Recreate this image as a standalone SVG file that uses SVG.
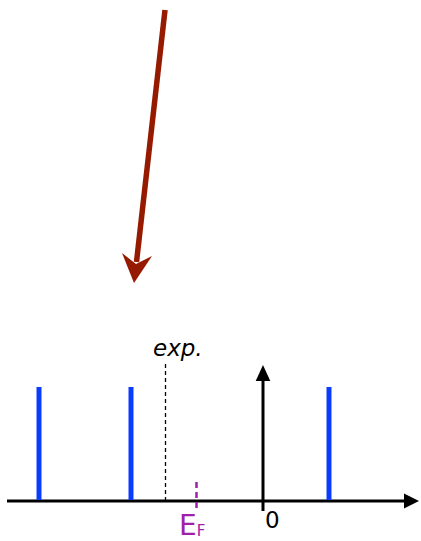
<svg xmlns="http://www.w3.org/2000/svg" width="421" height="541" viewBox="0 0 421 541">
<style>
.axis{stroke:#000;stroke-width:3;fill:none}
.level{stroke:#0a3cff;stroke-width:5;fill:none}
.lbl{font-family:"DejaVu Sans",sans-serif}
</style>
<rect width="421" height="541" fill="#fff"/>
<g id="connectors">
<line x1="165" y1="10" x2="136.5" y2="262" stroke="#951a00" stroke-width="5.5"/>
<polygon points="134,283 122,253 136,264 152,256" fill="#951a00"/>
</g>
<g id="axes">
<line class="axis" x1="7" y1="501" x2="406" y2="501"/>
<polygon points="419,501 404,493.5 404,508.5" fill="#000"/>
<line class="axis" x1="263" y1="511" x2="263" y2="379"/>
<polygon points="263,365 255.7,381 270.3,381" fill="#000"/>
</g>
<g id="levels">
<line class="level" x1="39" y1="387" x2="39" y2="500"/>
<line class="level" x1="131" y1="387" x2="131" y2="500"/>
<line class="level" x1="329" y1="387" x2="329" y2="500"/>
</g>
<g id="exp">
<line x1="165.5" y1="364" x2="165.5" y2="500" stroke="#000" stroke-width="1.3" stroke-dasharray="4,3"/>
<text class="lbl" x="153" y="356" font-size="23" font-style="italic">exp.</text>
</g>
<g id="fermi">
<line x1="196.5" y1="482" x2="196.5" y2="511" stroke="#a020a8" stroke-width="2.5" stroke-dasharray="6,4"/>
<text class="lbl" x="179" y="535" font-size="28" fill="#a020a8">E<tspan font-size="15" dy="1">F</tspan></text>
</g>
<g id="zero">
<text class="lbl" x="265" y="528" font-size="23">0</text>
</g>
</svg>
